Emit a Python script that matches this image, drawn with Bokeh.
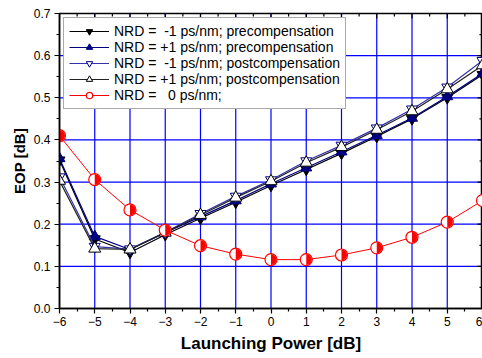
from bokeh.plotting import figure
from bokeh.models import (Legend, LegendItem, PrintfTickFormatter,
                          FixedTicker, Range1d)
from bokeh.embed import file_html
from bokeh.resources import INLINE
import math

power = [-6, -5, -4, -3, -2, -1, 0, 1, 2, 3, 4, 5, 6]
pre_m1 = [0.352, 0.165, 0.133, 0.175, 0.214, 0.252, 0.292, 0.330, 0.368, 0.408, 0.450, 0.500, 0.555]
pre_p1 = [0.356, 0.171, 0.140, 0.180, 0.218, 0.256, 0.296, 0.334, 0.372, 0.411, 0.452, 0.503, 0.558]
post_m1 = [0.312, 0.147, 0.141, 0.181, 0.225, 0.266, 0.305, 0.350, 0.387, 0.428, 0.473, 0.525, 0.588]
post_p1 = [0.303, 0.142, 0.140, 0.180, 0.222, 0.263, 0.302, 0.346, 0.383, 0.424, 0.468, 0.520, 0.577]
nrd0 = [0.410, 0.306, 0.234, 0.186, 0.149, 0.129, 0.116, 0.116, 0.127, 0.144, 0.169, 0.205, 0.256]

labels = ["NRD =  -1 ps/nm; precompensation",
          "NRD = +1 ps/nm; precompensation",
          "NRD =  -1 ps/nm; postcompensation",
          "NRD = +1 ps/nm; postcompensation",
          "NRD =   0 ps/nm;"]

x_ticks = [-6, -5, -4, -3, -2, -1, 0, 1, 2, 3, 4, 5, 6]
y_ticks = [0.0, 0.1, 0.2, 0.3, 0.4, 0.5, 0.6, 0.7]
x_minor = [v + 0.5 for v in x_ticks[:-1]]
y_minor = [round(v + 0.05, 2) for v in y_ticks[:-1]]

FONT = "Liberation Sans"
X0, X1 = x_ticks[0], x_ticks[-1]
Y0, Y1 = y_ticks[0], y_ticks[-1]

p = figure(width=482, height=358, output_backend="svg", toolbar_location=None,
           x_range=Range1d(X0, X1), y_range=Range1d(Y0, Y1),
           min_border_left=59, min_border_top=13, min_border_bottom=50,
           min_border_right=0)
p.background_fill_color = "white"
p.border_fill_color = "white"
p.outline_line_color = "black"
p.outline_line_width = 1.5
p.xgrid.visible = False
p.ygrid.visible = False

# grid lines drawn as glyphs at the tick positions
p.segment(x0=x_ticks[1:-1], y0=[Y0] * (len(x_ticks) - 2),
          x1=x_ticks[1:-1], y1=[Y1] * (len(x_ticks) - 2),
          line_color="#0000ff", line_width=1.2)
p.segment(x0=[X0] * (len(y_ticks) - 2), y0=y_ticks[1:-1],
          x1=[X1] * (len(y_ticks) - 2), y1=y_ticks[1:-1],
          line_color="#0000ff", line_width=1.2)

# axes
xa = p.xaxis[0]
ya = p.yaxis[0]
xa.ticker = FixedTicker(ticks=x_ticks, minor_ticks=x_minor)
ya.ticker = FixedTicker(ticks=y_ticks, minor_ticks=y_minor)
ya.formatter = PrintfTickFormatter(format="%.1f")
xa.axis_label = "Launching Power [dB]"
ya.axis_label = "EOP [dB]"
for a in (xa, ya):
    a.axis_line_color = "black"
    a.axis_line_width = 1.5
    a.major_tick_line_color = "black"
    a.minor_tick_line_color = "black"
    a.major_tick_line_width = 1.2
    a.minor_tick_line_width = 1.2
    a.major_tick_in = 0
    a.major_tick_out = 5
    a.minor_tick_in = 0
    a.minor_tick_out = 3
    a.major_label_text_font = FONT
    a.major_label_text_font_size = "12px"
    a.major_label_text_color = "black"
    a.axis_label_text_font = FONT
    a.axis_label_text_font_style = "bold"
    a.axis_label_text_color = "black"
xa.axis_label_text_font_size = "17px"
ya.axis_label_text_font_size = "15px"
xa.axis_label_standoff = 5
ya.axis_label_standoff = 3
xa.major_label_standoff = 3
ya.major_label_standoff = 4

# mirrored ticks on top and right (inward), drawn as screen-length rays
p.ray(x=x_ticks, y=[Y1] * len(x_ticks), length=5, length_units="screen",
      angle=-math.pi / 2, line_color="black", line_width=1.2)
p.ray(x=x_minor, y=[Y1] * len(x_minor), length=3, length_units="screen",
      angle=-math.pi / 2, line_color="black", line_width=1.2)
p.ray(x=[X1] * len(y_ticks), y=y_ticks, length=5, length_units="screen",
      angle=math.pi, line_color="black", line_width=1.2)
p.ray(x=[X1] * len(y_minor), y=y_minor, length=3, length_units="screen",
      angle=math.pi, line_color="black", line_width=1.2)

# series
r1l = p.line(power, pre_m1, line_color="black", line_width=1.2)
r1m = p.scatter(power, pre_m1, marker="inverted_triangle", size=11,
                fill_color="black", line_color="black")

r2l = p.line(power, pre_p1, line_color="#000080", line_width=1.2)
r2m = p.scatter(power, pre_p1, marker="triangle", size=11,
                fill_color="#000080", line_color="#000080")

r3l = p.line(power, post_m1, line_color="#3333aa", line_width=1.2)
r3m = p.scatter(power, post_m1, marker="inverted_triangle", size=11,
                fill_color="white", line_color="#000080")

r4l = p.line(power, post_p1, line_color="#222222", line_width=1.2)
r4m = p.scatter(power, post_p1, marker="triangle", size=12,
                fill_color="white", line_color="black")

r5l = p.line(power, nrd0, line_color="#ff0000", line_width=1)
r5c = p.scatter(power, nrd0, marker="circle", size=12,
                fill_color="white", line_color="#ff0000", line_width=1.2)
r5w = p.wedge(power, nrd0, radius=5.5, radius_units="screen",
              start_angle=-math.pi / 2, end_angle=math.pi / 2,
              fill_color="#ff0000", line_color=None)

items = [
    LegendItem(label=labels[0], renderers=[r1l, r1m]),
    LegendItem(label=labels[1], renderers=[r2l, r2m]),
    LegendItem(label=labels[2], renderers=[r3l, r3m]),
    LegendItem(label=labels[3], renderers=[r4l, r4m]),
    LegendItem(label=labels[4], renderers=[r5l, r5c]),
]
legend = Legend(items=items, location="top_left")
legend.margin = 4
legend.padding = 5
legend.spacing = 0
legend.glyph_width = 40
legend.glyph_height = 16
legend.label_height = 16
legend.label_standoff = 5
legend.label_text_font = FONT
legend.label_text_font_size = "14px"
legend.label_text_color = "black"
legend.border_line_color = "#555555"
legend.border_line_width = 1.5
legend.background_fill_color = "white"
legend.background_fill_alpha = 1
p.add_layout(legend, "center")

open("out.html", "w").write(file_html(p, INLINE))
